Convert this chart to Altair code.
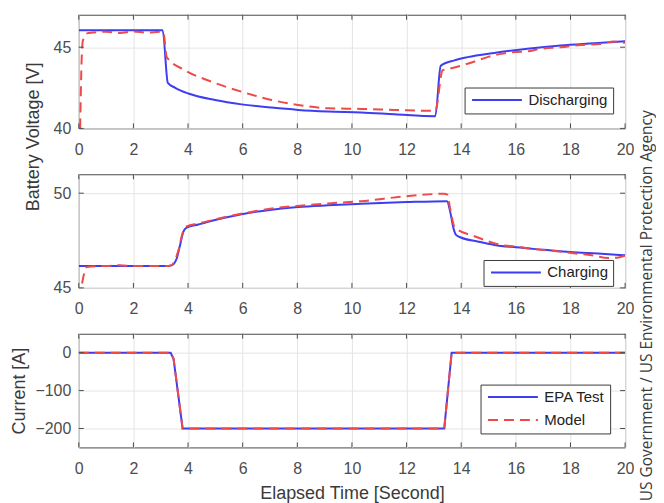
import altair as alt
import pandas as pd

# ---------------- data ----------------
x_ticks = [0, 2, 4, 6, 8, 10, 12, 14, 16, 18, 20]

# Panel 1: discharging
dis_test_t = [0, 3.07, 3.26, 3.53, 4.01, 4.99, 5.96, 7.06, 8.03, 9.12, 10.34, 11.56, 13.05,
              13.25, 13.75, 14.23, 15.21, 16.42, 17.64, 18.86, 20.0]
dis_test_v = [46.05, 46.05, 42.8, 42.5, 42.15, 41.75, 41.48, 41.28, 41.14, 41.04, 40.98, 40.87, 40.75,
              43.85, 44.19, 44.39, 44.65, 44.9, 45.1, 45.24, 45.37]
dis_model_t = [0.05, 0.1, 0.15, 0.3, 0.5, 1.0, 1.5, 2.0, 2.5, 3.0, 3.1, 3.22, 3.89, 4.87, 5.96,
               7.06, 8.03, 9.12, 10.34, 11.56, 13.05, 13.32, 13.57, 14.23, 14.96, 15.45, 15.94,
               16.42, 16.91, 17.64, 18.36, 19.1, 19.59, 20.0]
dis_model_v = [40.0, 44.0, 45.4, 45.85, 45.9, 45.95, 45.88, 45.97, 45.9, 45.95, 45.9, 44.39, 43.58,
               42.87, 42.26, 41.75, 41.44, 41.24, 41.2, 41.14, 41.08, 43.58, 43.68, 43.98, 44.39,
               44.59, 44.7, 44.74, 44.9, 45.0, 45.14, 45.2, 45.35, 45.27]

# Panel 2: charging
chg_test_t = [0, 3.2, 3.41, 3.59, 3.71, 3.83, 3.95, 4.38, 4.99, 5.96, 7.06, 8.03, 9.12, 10.34,
              12.0, 13.48, 13.6, 13.72, 13.81, 13.99, 14.6, 15.21, 16.01, 17.03, 18.0, 19.0, 20.0]
chg_test_v = [46.15, 46.15, 46.2, 46.58, 47.27, 47.97, 48.18, 48.35, 48.58, 48.89, 49.13, 49.27,
              49.36, 49.44, 49.53, 49.58, 49.0, 48.14, 47.8, 47.66, 47.45, 47.27, 47.14, 47.01,
              46.89, 46.81, 46.72]
chg_model_t = [0.12, 0.22, 0.3, 0.73, 1.0, 1.5, 2.0, 2.5, 3.0, 3.35, 3.5, 3.65, 3.8, 3.95, 4.38,
               5.0, 6.0, 7.0, 8.0, 9.12, 10.34, 12.0, 13.38, 13.48, 13.62, 13.75, 13.93, 14.35,
               15.01, 15.45, 16.01, 16.6, 17.33, 18.05, 18.78, 19.39, 19.76, 20.0]
chg_model_v = [45.23, 45.89, 46.1, 46.15, 46.15, 46.2, 46.15, 46.15, 46.15, 46.17, 46.4, 47.0,
               47.9, 48.25, 48.4, 48.62, 48.93, 49.18, 49.33, 49.46, 49.58, 49.84, 49.97, 49.94,
               49.0, 48.23, 48.02, 47.8, 47.45, 47.27, 47.19, 47.06, 46.96, 46.84, 46.72, 46.58,
               46.61, 46.7]

# Panel 3: current
cur_test_t = [0, 3.36, 3.47, 3.8, 13.38, 13.65, 20]
cur_test_i = [0, 0, -16, -200, -200, 0, 0]
cur_model_t = [0, 3.36, 3.47, 3.8, 13.38, 13.65, 20]
cur_model_i = [0, 0, -16, -200, -200, 0, 0]

credit = ["US Government / US Environmental Protection Agency"]

# ---------------- style ----------------
BLUE = "#3d3df2"
RED = "#ee4a4a"
FRAME = "#4a4a4a"
GRID = "#e4e4e4"
FONT = "Liberation Sans"
W, H = 548, 114
TICK = 5
DASH = [10, 6]
CW, CH = 16, 488
GAP = 13


def legend(lx, ly):
    return alt.Legend(
        title=None, orient="none", legendX=lx, legendY=ly,
        symbolType="M-1,0H9", symbolSize=100, symbolStrokeWidth=2,
        labelOffset=44, labelFont=FONT, labelFontSize=15, labelColor="#222222",
        padding=5, rowPadding=7, strokeColor="#3a3a3a", fillColor="white",
    )


def panel(test_t, test_v, model_t, model_v, ydom, yticks, labels, lx, ly,
          ytitle=None, ytitle_pos=None, xtitle=None, interp="monotone"):
    test = pd.DataFrame({"t": test_t, "v": test_v, "series": labels[0]})
    model = pd.DataFrame({"t": model_t, "v": model_v, "series": "Model"})

    xaxis = alt.Axis(values=x_ticks, grid=True, domain=False, ticks=False,
                     labelPadding=13, labelFlush=False, title=xtitle, titlePadding=8)
    yk = dict(values=yticks, grid=True, domain=False, ticks=False, labelPadding=8,
              title=ytitle, titlePadding=6)
    if ytitle_pos is not None:
        yk.update(titleX=ytitle_pos[0], titleY=ytitle_pos[1], titleAngle=270,
                  titleAlign="center", titleBaseline="bottom")
    x = alt.X("t:Q", scale=alt.Scale(domain=[0, 20], nice=False, zero=False), axis=xaxis)
    y = alt.Y("v:Q", scale=alt.Scale(domain=ydom, nice=False, zero=False), axis=alt.Axis(**yk))

    if len(labels) == 1:
        color = alt.Color("series:N", scale=alt.Scale(domain=labels, range=[BLUE]),
                          legend=legend(lx, ly))
        blue = alt.Chart(test).mark_line(strokeWidth=2, interpolate=interp, clip=True).encode(
            x=x, y=y, color=color)
        red = alt.Chart(model).mark_line(strokeWidth=2, interpolate=interp, clip=True,
                                         strokeDash=DASH).encode(
            x=x, y=y, color=alt.value(RED))
    else:
        color = alt.Color("series:N", scale=alt.Scale(domain=labels, range=[BLUE, RED]),
                          legend=legend(lx, ly))
        dash = alt.StrokeDash("series:N", scale=alt.Scale(domain=labels, range=[[1, 0], DASH]),
                              legend=legend(lx, ly))
        blue = alt.Chart(test).mark_line(strokeWidth=2, interpolate=interp, clip=True).encode(
            x=x, y=y, color=color, strokeDash=dash)
        red = alt.Chart(model).mark_line(strokeWidth=2, interpolate=interp, clip=True).encode(
            x=x, y=y, color=color, strokeDash=dash)

    xt = pd.DataFrame({"t": x_ticks})
    yt = pd.DataFrame({"v": yticks})
    top = alt.Chart(xt).mark_rule(color=FRAME).encode(x=x, y=alt.value(0), y2=alt.value(TICK))
    bot = alt.Chart(xt).mark_rule(color=FRAME).encode(x=x, y=alt.value(H - TICK), y2=alt.value(H))
    lef = alt.Chart(yt).mark_rule(color=FRAME).encode(y=y, x=alt.value(0), x2=alt.value(TICK))
    rig = alt.Chart(yt).mark_rule(color=FRAME).encode(y=y, x=alt.value(W - TICK), x2=alt.value(W))

    return alt.layer(blue, red, top, bot, lef, rig).properties(width=W, height=H)


p1 = panel(dis_test_t, dis_test_v, dis_model_t, dis_model_v, [40, 47], [40, 45],
           ["Discharging"], 387, 73, ytitle="Battery Voltage [V]", ytitle_pos=(-36, 122))
p2 = panel(chg_test_t, chg_test_v, chg_model_t, chg_model_v, [45, 51], [45, 50],
           ["Charging"], 406, 86)
p3 = panel(cur_test_t, cur_test_i, cur_model_t, cur_model_i, [-250, 50], [-200, -100, 0],
           ["EPA Test", "Model"], 403, 51, ytitle="Current [A]",
           xtitle="Elapsed Time [Second]", interp="linear")

main = alt.vconcat(p1, p2, p3, spacing=46, bounds="flush").resolve_scale(
    color="independent", strokeDash="independent"
)

credit_panel = alt.Chart(pd.DataFrame({"label": credit})).mark_text(
    angle=270, align="left", baseline="alphabetic", font="Open Sans", fontSize=15.5,
    color="#3c3c3c",
).encode(
    text="label:N", x=alt.value(CW - 2), y=alt.value(CH)
).properties(width=CW, height=CH, view=alt.ViewBackground(stroke="transparent"))

# with flush bounds the nested column counts as zero-width, so the gap spans the plot width
chart = alt.hconcat(main, credit_panel, spacing=W + GAP, bounds="flush").resolve_scale(
    color="independent", strokeDash="independent"
).properties(
    padding={"left": 2, "top": 5, "right": 0, "bottom": 0},
    background="white",
).configure_axis(
    labelFont=FONT, titleFont=FONT, labelFontSize=16, titleFontSize=18,
    labelColor="#4d4d4d", titleColor="#3a3a3a", titleFontWeight="normal",
    gridColor=GRID, gridWidth=1,
).configure_view(stroke=FRAME, strokeWidth=1)

chart.save("out.html", embed_options={"renderer": "svg", "actions": False})
